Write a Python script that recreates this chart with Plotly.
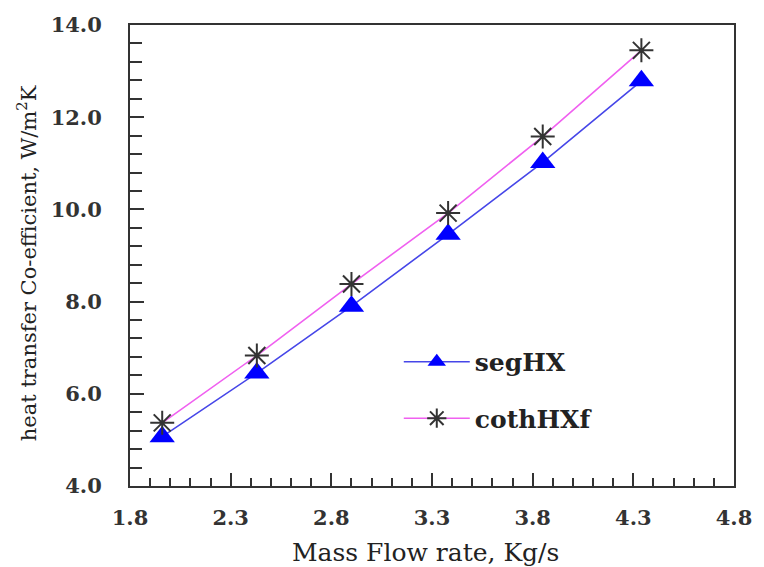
import plotly.graph_objects as go

mass_flow = [1.96, 2.43, 2.90, 3.38, 3.85, 4.34]
seg_hx = [5.07, 6.45, 7.90, 9.46, 11.02, 12.79]
coth_hxf = [5.37, 6.83, 8.38, 9.92, 11.58, 13.45]

series_names = ["segHX", "cothHXf"]
x_title = "Mass Flow rate, Kg/s"
y_title = "heat transfer Co-efficient, W/m<sup>2</sup>K"

FONT = "DejaVu Serif"

fig = go.Figure()
fig.add_trace(go.Scatter(
    x=mass_flow, y=seg_hx, name=series_names[0], mode="lines+markers",
    line=dict(color="#4646e8", width=1.6),
    marker=dict(symbol="triangle-up", size=22, color="#0000ff",
                line=dict(width=0)),
    legendgroup="a",
))
fig.add_trace(go.Scatter(
    x=mass_flow, y=coth_hxf, name=series_names[1], mode="lines+markers",
    line=dict(color="#f060f0", width=1.6),
    marker=dict(symbol="asterisk-open", size=20, color="#333333",
                line=dict(width=2, color="#333333")),
    legendgroup="b",
))

axis_common = dict(
    showline=True, linecolor="#333333", linewidth=2, mirror=True,
    ticks="inside", tickcolor="#333333", tickwidth=2,
    showgrid=False, zeroline=False,
    tickfont=dict(family=FONT, size=21, color="#333333", weight="bold"),
    tickformat=".1f",
)

fig.update_xaxes(
    range=[1.8, 4.8], tick0=1.8, dtick=0.5, ticklen=13, ticklabelstandoff=12,
    minor=dict(dtick=0.1, ticks="inside", ticklen=8, tickcolor="#333333", tickwidth=2),
    **axis_common,
)
fig.update_yaxes(
    range=[4.0, 14.0], tick0=4.0, dtick=2.0, ticklen=14, ticklabelstandoff=22,
    minor=dict(dtick=0.4, ticks="inside", ticklen=12, tickcolor="#333333", tickwidth=2),
    **axis_common,
)

fig.add_annotation(
    text=x_title, xref="paper", yref="paper", x=0.49, y=-0.145,
    xanchor="center", yanchor="middle", showarrow=False,
    font=dict(family=FONT, size=25, color="#222222"),
)
fig.add_annotation(
    text=y_title, xref="paper", yref="paper", x=-0.17, y=0.484,
    xanchor="center", yanchor="middle", showarrow=False, textangle=-90,
    font=dict(family=FONT, size=21, color="#222222"),
)

fig.update_layout(
    width=764, height=567,
    margin=dict(l=130, r=19, t=23, b=81),
    paper_bgcolor="white", plot_bgcolor="white",
    showlegend=True,
    legend=dict(
        x=0.445, y=0.319, xanchor="left", yanchor="top",
        bgcolor="rgba(0,0,0,0)", borderwidth=0,
        font=dict(family=FONT, size=25, color="#222222", weight="bold"),
        tracegroupgap=21, itemwidth=66,
    ),
)

fig.write_html("out.html", config={"displayModeBar": False},
               post_script="document.body.style.margin='0';")
